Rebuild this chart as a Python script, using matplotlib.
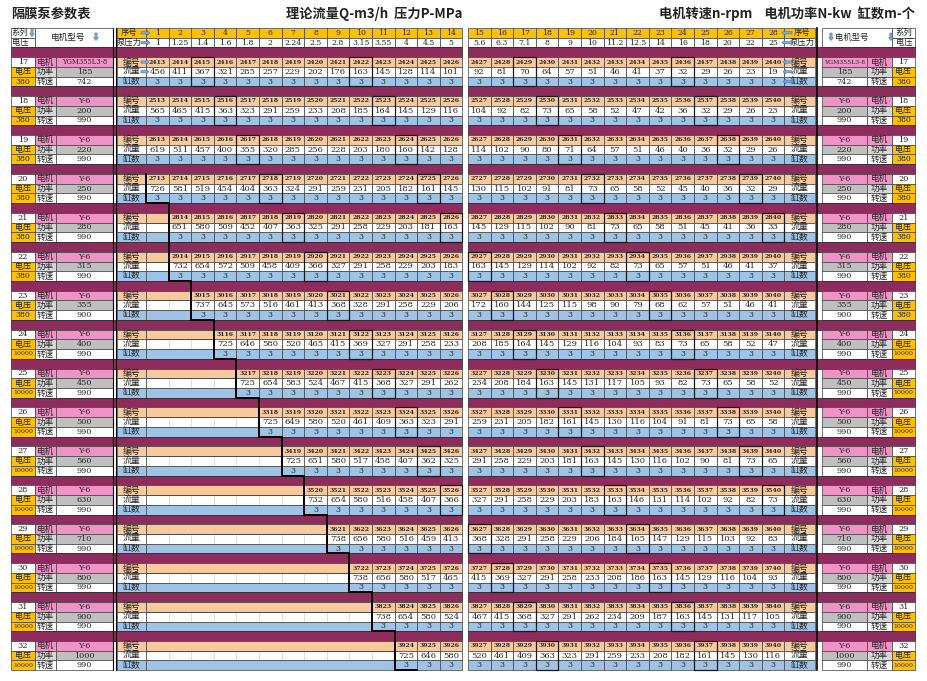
import matplotlib
matplotlib.use("Agg")
import matplotlib.pyplot as plt
from matplotlib.patches import Rectangle, FancyArrow

# ---- data read from the sheet ----
series = [17, 18, 19, 20, 21, 22, 23, 24, 25, 26, 27, 28, 29, 30, 31, 32]
models = ["YGM355L3-8", "Y-6", "Y-6", "Y-6", "Y-6", "Y-6", "Y-6", "Y-6",
          "Y-6", "Y-6", "Y-6", "Y-6", "Y-6", "Y-6", "Y-6", "Y-6"]
powers = [185, 200, 220, 250, 280, 315, 355, 400, 450, 500, 560, 630, 710, 800, 900, 1000]
speeds = [742, 990, 990, 990, 990, 990, 900, 990, 990, 990, 990, 990, 990, 990, 990, 990]
voltages = [380, 380, 380, 380, 380, 380, 380, 10000, 10000, 10000, 10000, 10000,
            10000, 10000, 10000, 10000]
first_codes = [2413, 2513, 2613, 2713, 2814, 2914, 3015, 3116, 3217, 3318, 3419,
               3520, 3621, 3722, 3823, 3924]
cylinders = [3, 3, 3, 3, 3, 3, 3, 3, 3, 3, 3, 3, 3, 3, 3, 3]
pump_no = list(range(1, 29))
pressures = ["1", "1.25", "1.4", "1.6", "1.8", "2", "2.24", "2.5", "2.8", "3.15",
             "3.55", "4", "4.5", "5", "5.6", "6.3", "7.1", "8", "9", "10", "11.2",
             "12.5", "14", "16", "18", "20", "22", "25"]
# flow of each series, from its first filled column up to column 28
flows = [
    [456, 411, 367, 321, 285, 257, 229, 202, 176, 163, 145, 128, 114, 101,
     92, 81, 70, 64, 57, 51, 46, 41, 37, 32, 29, 26, 23, 19],
    [565, 465, 415, 363, 323, 291, 259, 233, 208, 185, 164, 145, 129, 116,
     104, 92, 82, 73, 65, 58, 52, 47, 42, 36, 32, 29, 26, 23],
    [619, 511, 457, 400, 355, 320, 285, 256, 228, 203, 180, 160, 142, 128,
     114, 102, 90, 80, 71, 64, 57, 51, 46, 40, 36, 32, 29, 26],
    [726, 581, 519, 454, 404, 363, 324, 291, 259, 231, 205, 182, 161, 145,
     130, 115, 102, 91, 81, 73, 65, 58, 52, 45, 40, 36, 32, 29],
    [651, 580, 509, 452, 407, 363, 325, 291, 258, 229, 203, 181, 163,
     145, 129, 115, 102, 90, 81, 73, 65, 58, 51, 45, 41, 36, 33],
    [732, 654, 572, 509, 458, 409, 366, 327, 291, 258, 229, 203, 183,
     163, 145, 129, 114, 102, 92, 82, 73, 65, 57, 51, 46, 41, 37],
    [737, 645, 573, 516, 461, 413, 368, 328, 291, 258, 229, 206,
     172, 160, 144, 125, 115, 98, 90, 79, 68, 62, 57, 51, 46, 41],
    [725, 646, 580, 520, 465, 415, 369, 327, 291, 258, 233,
     208, 185, 164, 145, 129, 116, 104, 93, 83, 73, 65, 58, 52, 47],
    [725, 654, 583, 524, 467, 415, 368, 327, 291, 262,
     234, 208, 184, 163, 145, 131, 117, 105, 93, 82, 73, 65, 58, 52],
    [725, 649, 580, 520, 461, 409, 363, 323, 291,
     259, 231, 205, 182, 161, 145, 130, 116, 104, 91, 81, 73, 65, 58],
    [725, 651, 580, 517, 458, 407, 362, 325,
     291, 258, 229, 203, 181, 163, 145, 130, 116, 102, 90, 81, 73, 65],
    [732, 654, 580, 516, 458, 407, 366,
     327, 291, 258, 229, 203, 183, 163, 146, 131, 114, 102, 92, 82, 73],
    [738, 656, 580, 516, 459, 413,
     368, 328, 291, 258, 229, 206, 184, 165, 147, 129, 115, 103, 92, 83],
    [738, 656, 580, 517, 465,
     415, 369, 327, 291, 258, 233, 208, 186, 163, 145, 129, 116, 104, 93],
    [738, 654, 580, 524,
     467, 415, 368, 327, 291, 262, 234, 209, 187, 163, 145, 131, 117, 105],
    [725, 646, 580,
     520, 461, 409, 363, 323, 291, 259, 233, 208, 182, 161, 145, 130, 116],
]

# ---- styling ----
GOLD = "#FFC000"
ORANGE = "#F8C99C"
BLUE = "#9DC3E6"
PURPLE = "#8E2C5E"
PINK = "#EF93C6"
GRAY = "#BFBFBF"
LGRAY = "#D6D6D6"
EDGE = "#404040"
TXT = "#262626"
CJK = ["Noto Sans CJK SC", "DejaVu Sans"]
NUM = ["DejaVu Serif", "Noto Sans CJK SC"]

W, H = 928, 681
fig = plt.figure(figsize=(W / 100, H / 100), dpi=100)
ax = fig.add_axes([0, 0, 1, 1])
ax.set_xlim(0, W)
ax.set_ylim(H, 0)
ax.axis("off")

Y0, U = 28.0, 9.73
CW = 22.6
L0, R0 = 146.0, 468.0
L_END = L0 + 14 * CW
R_END = R0 + 14 * CW


def ry(r):
    return Y0 + r * U


def cx(c):
    return L0 + (c - 1) * CW if c <= 14 else R0 + (c - 15) * CW


def cell(x0, x1, y0, y1, fc, ec=EDGE, lw=0.5):
    ax.add_patch(Rectangle((x0, y0), x1 - x0, y1 - y0, facecolor=fc,
                           edgecolor=ec, linewidth=lw))


def put(x, y, s, size=5.8, fam=NUM, weight="normal", color=TXT, ha="center"):
    ax.text(x, y, s, fontsize=size, family=fam, weight=weight, color=color,
            ha=ha, va="center")


def arrow(x, y, dx, dy):
    ax.add_patch(FancyArrow(x, y, dx, dy, width=2.2, head_width=4.6,
                            head_length=2.8, length_includes_head=True,
                            facecolor="#7EAEE0", edgecolor="#3E6FAE", linewidth=0.4,
                            zorder=5))


# titles
put(11, 14, "隔膜泵参数表", size=9.5, fam=CJK, weight="bold", color="#222", ha="left")
put(462, 14, "理论流量Q-m3/h  压力P-MPa", size=9.5, fam=CJK, weight="bold",
    color="#222", ha="right")
put(915, 14, "电机转速n-rpm    电机功率N-kw  缸数m-个", size=9.5, fam=CJK,
    weight="bold", color="#222", ha="right")

# header rows
cell(11, 35, ry(0), ry(1), "white")
cell(11, 35, ry(1), ry(2), "white")
cell(35, 113, ry(0), ry(2), "white")
put(20, ry(0.5), "系列", 6.0, CJK)
put(20, ry(1.5), "电压", 6.0, CJK)
arrow(32, ry(0) + 1, 0, 7.5)
put(68, ry(1), "电机型号", 6.2, CJK)
arrow(96, ry(0) + 5, 0, 7.5)
cell(117, L0, ry(0), ry(1), GOLD)
cell(117, L0, ry(1), ry(2), "white")
put(129, ry(0.5), "序号", 6.0, CJK)
put(129, ry(1.5), "泵压力", 6.0, CJK)
cell(R_END, 815, ry(0), ry(1), GOLD)
cell(R_END, 815, ry(1), ry(2), "white")
put(802, ry(0.5), "序号", 6.0, CJK)
put(802, ry(1.5), "泵压力", 6.0, CJK)
cell(822, 892, ry(0), ry(2), "white")
cell(892, 915, ry(0), ry(1), "white")
cell(892, 915, ry(1), ry(2), "white")
put(852, ry(1), "电机型号", 6.0, CJK)
arrow(831, ry(0) + 5, 0, 7.5)
put(904, ry(0.5), "系列", 6.0, CJK)
put(904, ry(1.5), "电压", 6.0, CJK)
arrow(891, ry(0) + 5, 0, 7.5)
for c, no, p in zip(range(1, 29), pump_no, pressures):
    cell(cx(c), cx(c) + CW, ry(0), ry(1), GOLD)
    cell(cx(c), cx(c) + CW, ry(1), ry(2), "white")
    put(cx(c) + CW / 2, ry(0.5), str(no), 5.6)
    put(cx(c) + CW / 2, ry(1.5), p, 5.6)
arrow(141, ry(0.5), 9, 0)
arrow(141, ry(1.5), 9, 0)
arrow(792, ry(0.5), -10, 0)
arrow(792, ry(1.5), -10, 0)
cell(11, L_END, ry(2), ry(3), PURPLE, ec="#222")
cell(R0, 915, ry(2), ry(3), PURPLE, ec="#222")

# series blocks
for k in range(len(series)):
    r0 = 3 + 4 * k
    vals = flows[k]
    start = 29 - len(vals)
    ya, yb, yc, yd = ry(r0), ry(r0 + 1), ry(r0 + 2), ry(r0 + 3)

    # left motor info
    cell(11, 35, ya, yb, "white")
    cell(35, 56, ya, yb, PINK)
    cell(56, 113, ya, yb, PINK)
    cell(11, 35, yb, yc, GOLD)
    cell(35, 56, yb, yc, LGRAY)
    cell(56, 113, yb, yc, GRAY)
    cell(11, 35, yc, yd, GOLD)
    cell(35, 56, yc, yd, "white")
    cell(56, 113, yc, yd, "white")
    vsize = 4.5 if voltages[k] >= 10000 else 5.6
    msize = 4.9 if len(models[k]) > 5 else 5.8
    put(23, (ya + yb) / 2, str(series[k]), 5.9)
    put(45.5, (ya + yb) / 2, "电机", 6.2, CJK)
    put(84.5, (ya + yb) / 2, models[k], msize)
    put(23, (yb + yc) / 2, "电压", 5.8, CJK)
    put(45.5, (yb + yc) / 2, "功率", 6.2, CJK)
    put(84.5, (yb + yc) / 2, str(powers[k]), 5.9)
    put(23, (yc + yd) / 2, str(voltages[k]), vsize)
    put(45.5, (yc + yd) / 2, "转速", 6.2, CJK)
    put(84.5, (yc + yd) / 2, str(speeds[k]), 5.9)

    # right motor info
    cell(822, 867, ya, yb, PINK)
    cell(867, 892, ya, yb, PINK)
    cell(892, 915, ya, yb, "white")
    cell(822, 867, yb, yc, GRAY)
    cell(867, 892, yb, yc, LGRAY)
    cell(892, 915, yb, yc, GOLD)
    cell(822, 867, yc, yd, "white")
    cell(867, 892, yc, yd, "white")
    cell(892, 915, yc, yd, GOLD)
    put(844.5, (ya + yb) / 2, models[k], 4.4 if len(models[k]) > 5 else 5.8)
    put(879.5, (ya + yb) / 2, "电机", 6.2, CJK)
    put(903.5, (ya + yb) / 2, str(series[k]), 5.9)
    put(844.5, (yb + yc) / 2, str(powers[k]), 5.9)
    put(879.5, (yb + yc) / 2, "功率", 6.2, CJK)
    put(903.5, (yb + yc) / 2, "电压", 5.8, CJK)
    put(844.5, (yc + yd) / 2, str(speeds[k]), 5.9)
    put(879.5, (yc + yd) / 2, "转速", 6.2, CJK)
    put(903.5, (yc + yd) / 2, str(voltages[k]), vsize)

    # row labels
    for x0, x1 in [(117, L0), (R_END, 815)]:
        cell(x0, x1, ya, yb, ORANGE)
        cell(x0, x1, yb, yc, "white")
        cell(x0, x1, yc, yd, BLUE)
        put((x0 + x1) / 2, (ya + yb) / 2, "编号", 6.4, CJK)
        put((x0 + x1) / 2, (yb + yc) / 2, "流量", 6.4, CJK)
        put((x0 + x1) / 2, (yc + yd) / 2, "缸数", 6.4, CJK)

    # empty leading columns
    if start > 1:
        for c in range(1, start):
            cell(cx(c), cx(c) + CW, yb, yc, "white", ec="#cfcfcf", lw=0.4)
        cell(L0, cx(start), ya, yb, ORANGE)
        cell(L0, cx(start), yb, yc, "none")
        cell(L0, cx(start), yc, yd, BLUE)

    # filled columns
    for i, v in enumerate(vals):
        c = start + i
        x = cx(c)
        cell(x, x + CW, ya, yb, ORANGE)
        cell(x, x + CW, yb, yc, "white")
        cell(x, x + CW, yc, yd, BLUE)
        put(x + CW / 2, (ya + yb) / 2, str(first_codes[k] + i), 4.4, weight="bold")
        put(x + CW / 2, (yb + yc) / 2, str(v), 6.0)
        put(x + CW / 2, (yc + yd) / 2, str(cylinders[k]), 5.6)
        if (c - k - 3) % 7 == 0:
            ax.add_patch(Rectangle((x, ya), CW, 3 * U, facecolor="none",
                                   edgecolor="#1a1a1a", linewidth=0.9, zorder=3))

    if k < len(series) - 1:
        cell(11, L_END, yd, ry(r0 + 4), PURPLE, ec="#222")
        cell(R0, 915, yd, ry(r0 + 4), PURPLE, ec="#222")

# helper arrows on the first series
arrow(141, ry(3.5), 8, 0)
arrow(141, ry(4.5), 8, 0)
arrow(792, ry(3.5), -9, 0)
arrow(792, ry(4.5), -9, 0)
arrow(792, ry(5.5), -9, 0)

# staircase border between empty and filled columns
starts = [29 - len(v) for v in flows]
px, py = [cx(starts[3])], [ry(3 + 4 * 3)]
for k in range(3, len(series)):
    bottom = ry(3 + 4 * k + 3)
    px.append(cx(starts[k]))
    py.append(bottom)
    nxt = starts[k + 1] if k + 1 < len(series) else starts[k] + 1
    px.append(cx(nxt))
    py.append(bottom)
ax.plot(px, py, color="black", linewidth=1.4, solid_joinstyle="miter", zorder=4)

# double separators
ax.plot([113.5, 113.5], [ry(0), ry(66)], color="black", linewidth=0.8, zorder=4)
ax.plot([116.5, 116.5], [ry(0), ry(66)], color="black", linewidth=0.8, zorder=4)
ax.plot([817, 817], [ry(0), ry(66)], color="black", linewidth=1.2, zorder=4)

fig.savefig("out.png", dpi=100)
